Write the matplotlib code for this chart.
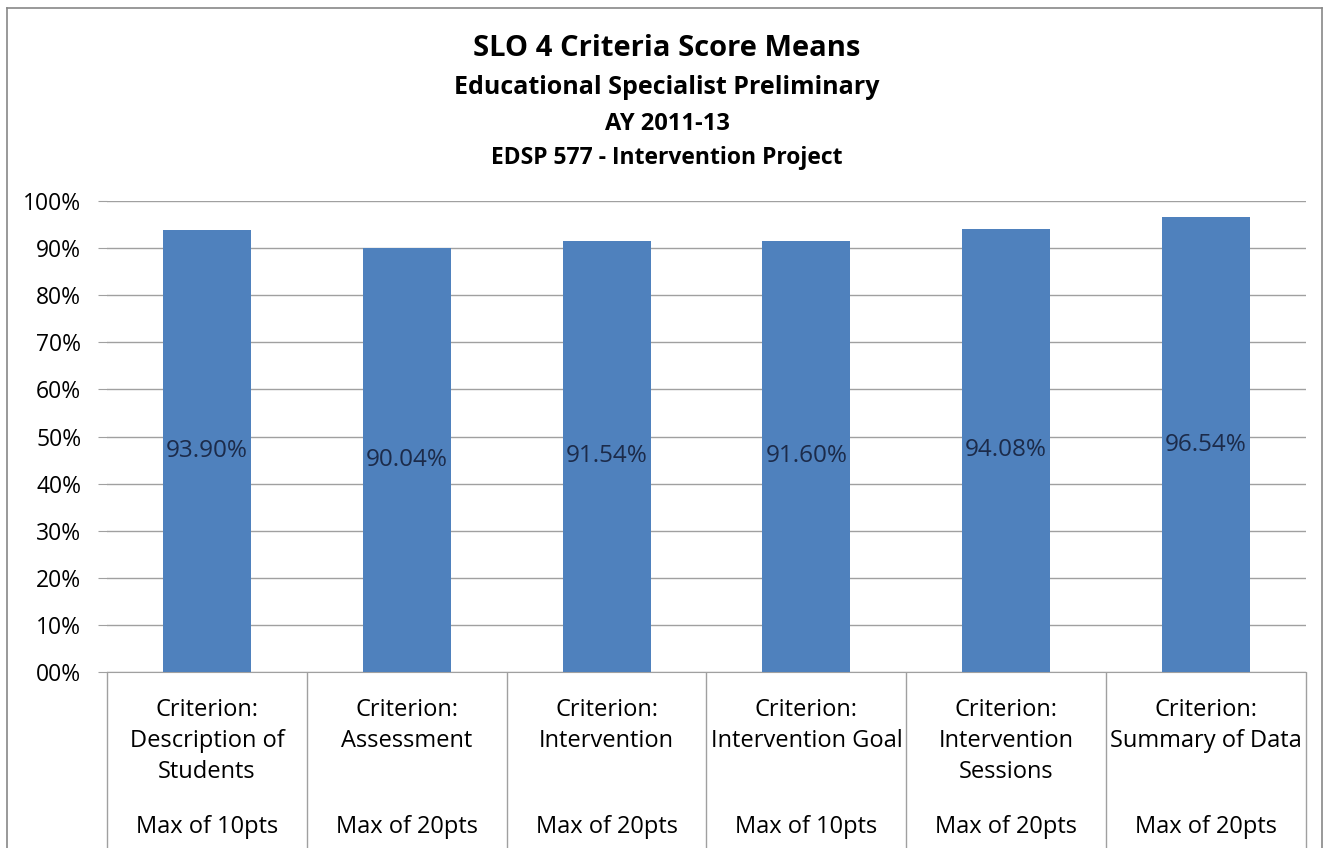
import matplotlib
matplotlib.use("Agg")
import matplotlib.pyplot as plt
from matplotlib.lines import Line2D

# ---------------- data
criteria = ["Criterion:\nDescription of\nStudents", "Criterion:\nAssessment",
            "Criterion:\nIntervention", "Criterion:\nIntervention Goal",
            "Criterion:\nIntervention\nSessions", "Criterion:\nSummary of Data"]
max_pts = ["Max of 10pts", "Max of 20pts", "Max of 20pts",
           "Max of 10pts", "Max of 20pts", "Max of 20pts"]
means = [93.90, 90.04, 91.54, 91.60, 94.08, 96.54]
yticks = [0, 10, 20, 30, 40, 50, 60, 70, 80, 90, 100]

title_lines = ["SLO 4 Criteria Score Means", "Educational Specialist Preliminary",
               "AY 2011-13", "EDSP 577 - Intervention Project"]

plt.rcParams['font.family'] = ['Open Sans', 'DejaVu Sans']

W, H = 1329, 848
fig = plt.figure(figsize=(W / 100, H / 100), dpi=100)
ax = fig.add_axes([107 / W, (H - 672) / H, (1306 - 107) / W, (672 - 201) / H])

x = list(range(len(means)))
ax.bar(x, means, width=0.44, color='#4F81BD', zorder=3)
for i, v in enumerate(means):
    ax.text(i, v / 2, "%.2f%%" % v, ha='center', va='center',
            fontsize=17.5, color='#1C2B4A', zorder=4)

ax.set_xlim(-0.5, len(means) - 0.5)
ax.set_ylim(0, 100)
ax.set_yticks(yticks)
ax.set_yticklabels(["%02d%%" % t for t in yticks], fontsize=16.5)
ax.tick_params(axis='y', length=6.5, color='#A0A0A0', pad=12)
ax.set_xticks([])
ax.grid(axis='y', color='#A0A0A0', linewidth=1, zorder=0)
for s in ['top', 'right', 'left']:
    ax.spines[s].set_visible(False)
ax.spines['bottom'].set_color('#A0A0A0')

# category table below the axis
tr = ax.get_xaxis_transform()
px = 1 / (672 - 201)
ax.vlines([i - 0.5 for i in range(len(means) + 1)], -(848 - 672) * px, 0,
          transform=tr, colors='#A0A0A0', linewidth=1, clip_on=False)
for i in range(len(means)):
    ax.text(i, -(698 - 672) * px, criteria[i], transform=tr, ha='center', va='top',
            fontsize=17, linespacing=1.38)
    ax.text(i, -(827 - 672) * px, max_pts[i], transform=tr, ha='center', va='center',
            fontsize=17)

# titles
ys = [48, 87, 124, 158]
sizes = [21, 18, 17, 16.5]
for t, yy, fs in zip(title_lines, ys, sizes):
    fig.text(667 / W, 1 - yy / H, t, ha='center', va='center',
             fontsize=fs, fontweight='bold')

# chart frame
fig.add_artist(Line2D([7 / W, 7 / W], [0, 1 - 8 / H], color='#888888', linewidth=1.2))
fig.add_artist(Line2D([7 / W, 1322 / W], [1 - 8 / H, 1 - 8 / H], color='#888888', linewidth=1.2))
fig.add_artist(Line2D([1322 / W, 1322 / W], [0, 1 - 8 / H], color='#888888', linewidth=1.2))

fig.savefig("out.png", dpi=100)
